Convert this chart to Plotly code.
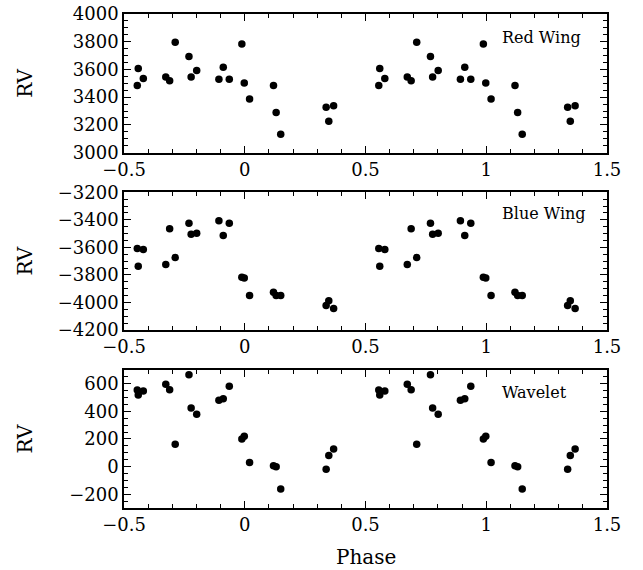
import plotly.graph_objects as go
from plotly.subplots import make_subplots

# Orbital phase of each observation (one cycle); plotted twice, at phase and phase + 1
phase = [-0.445, -0.441, -0.420, -0.327, -0.311, -0.288, -0.231, -0.222, -0.199,
         -0.107, -0.089, -0.064, -0.012, -0.002, 0.020, 0.119, 0.130, 0.149,
         0.337, 0.348, 0.368]

red_wing = [3485, 3606, 3534, 3546, 3519, 3797, 3693, 3546, 3592,
            3529, 3616, 3529, 3783, 3502, 3386, 3485, 3289, 3132,
            3328, 3227, 3338]

blue_wing = [-3608, -3736, -3616, -3724, -3465, -3674, -3424, -3504, -3497,
             -3407, -3514, -3424, -3816, -3823, -3949, -3925, -3949, -3949,
             -4022, -3988, -4044]

wavelet = [555, 518, 547, 596, 557, 162, 665, 424, 379,
           480, 492, 583, 200, 220, 29, 7, -2, -163,
           -19, 80, 128]

panels = [
    ("Red Wing", red_wing, [3000, 4000], 3833),
    ("Blue Wing", blue_wing, [-4200, -3200], -3356),
    ("Wavelet", wavelet, [-300, 700], 540),
]

FONT = "DejaVu Serif"

fig = make_subplots(rows=3, cols=1, vertical_spacing=0.08)

x_all = phase + [p + 1 for p in phase]

for i, (name, vals, yr, label_y) in enumerate(panels, start=1):
    fig.add_trace(
        go.Scatter(
            x=x_all, y=vals + vals, mode="markers",
            marker=dict(color="black", size=7.5),
            showlegend=False, name=name,
        ),
        row=i, col=1,
    )
    fig.add_annotation(
        x=1.056, y=label_y, xref=f"x{i}" if i > 1 else "x", yref=f"y{i}" if i > 1 else "y",
        text=name, showarrow=False, xanchor="left", yanchor="middle",
        font=dict(family=FONT, size=16, color="black"),
    )
    fig.update_xaxes(
        range=[-0.5, 1.5], dtick=0.5, tick0=0, automargin=False,
        ticks="inside", ticklen=7, tickwidth=1, tickcolor="black",
        minor=dict(ticks="inside", ticklen=4, dtick=0.1, tickcolor="black", tickwidth=1),
        showline=True, linecolor="black", linewidth=1.5, mirror="allticks",
        showgrid=False, zeroline=False,
        tickfont=dict(family=FONT, size=18, color="black"),
        row=i, col=1,
    )
    fig.update_yaxes(
        range=yr, dtick=200, tick0=0, automargin=False,
        ticks="inside", ticklen=7, tickwidth=1, tickcolor="black",
        minor=dict(ticks="inside", ticklen=4, dtick=50, tickcolor="black", tickwidth=1),
        showline=True, linecolor="black", linewidth=1.5, mirror="allticks",
        showgrid=False, zeroline=False,
        tickfont=dict(family=FONT, size=18, color="black"),
        row=i, col=1,
    )

# Panel placement
fig.update_layout(
    yaxis=dict(domain=[0.7194, 1.0]),
    yaxis2=dict(domain=[0.3603, 0.639]),
    yaxis3=dict(domain=[0.0, 0.2794]),
)

# Shared axis titles
for yc in [0.8597, 0.4997, 0.1397]:
    fig.add_annotation(
        x=-0.204, y=yc, xref="paper", yref="paper", text="RV", textangle=-90,
        showarrow=False, xanchor="center", yanchor="middle",
        font=dict(family=FONT, size=20, color="black"),
    )
fig.add_annotation(
    x=0.5, y=-0.099, xref="paper", yref="paper", text="Phase",
    showarrow=False, xanchor="center", yanchor="middle",
    font=dict(family=FONT, size=20, color="black"),
)

fig.update_layout(
    width=643, height=570,
    margin=dict(l=124, r=36, t=14, b=62),
    paper_bgcolor="white", plot_bgcolor="white",
    font=dict(family=FONT, color="black"),
)

fig.write_html("out.html")
